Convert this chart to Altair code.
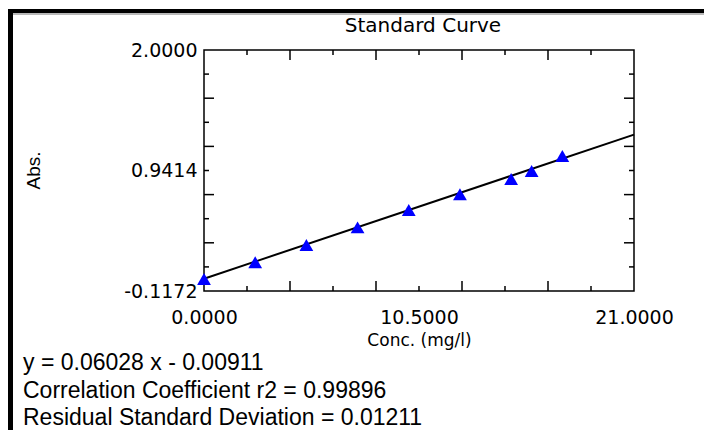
import altair as alt
import pandas as pd

# Calibration standards: concentration (mg/l) and measured absorbance
conc = [0.0, 2.5, 5.0, 7.5, 10.0, 12.5, 15.0, 16.0, 17.5]
absorbance = [-0.012, 0.135, 0.287, 0.442, 0.594, 0.732, 0.867, 0.937, 1.069]

# Linear fit reported for the curve
slope = 0.06028
intercept = -0.00911
r2 = 0.99896
residual_sd = 0.01211

# Axis ranges and labelled values
x_domain = [0.0, 21.0]
y_domain = [-0.1172, 2.0]
x_labels = [0.0, 10.5, 21.0]
y_labels = [-0.1172, 0.9414, 2.0]

# Inward tick marks (long and short)
x_major_ticks = [4.2, 8.4, 12.6, 16.8]
x_minor_ticks = [2.1, 6.3, 10.5, 14.7, 18.9]
y_major_ticks = [0.30624, 0.72968, 1.15312, 1.57656]
y_minor_ticks = [0.09452, 0.51796, 0.9414, 1.36484, 1.78828]

title_text = "Standard Curve"
stats_lines = [
    f"y = {slope:.5f} x - {abs(intercept):.5f}",
    f"Correlation Coefficient r2 = {r2:.5f}",
    f"Residual Standard Deviation = {residual_sd:.5f}",
]

W, H = 430, 241
LEFT, TOP = 204, 50
TICK_FONT = "DejaVu Sans"
TEXT_FONT = "Liberation Sans"
LABEL_EXPR = "replace(format(datum.value, '.4f'), '\u2212', '-')"

xs = alt.Scale(domain=x_domain, nice=False, zero=False)
ys = alt.Scale(domain=y_domain, nice=False, zero=False)

points_df = pd.DataFrame({"conc": conc, "abs": absorbance})
fit_df = pd.DataFrame({
    "conc": x_domain,
    "abs": [slope * x_domain[0] + intercept, slope * x_domain[1] + intercept],
})

x_axis = alt.Axis(
    values=x_labels, labelExpr=LABEL_EXPR, ticks=False, domain=False, grid=False,
    labelFont=TICK_FONT, labelFontSize=19, labelColor="black", labelPadding=17,
    labelFlush=False, title="Conc. (mg/l)", titleFont=TICK_FONT, titleFontSize=17,
    titleFontWeight="normal", titleColor="black", titleY=49, titleBaseline="middle",
)
y_axis = alt.Axis(
    values=y_labels, labelExpr=LABEL_EXPR, ticks=False, domain=False, grid=False,
    labelFont=TICK_FONT, labelFontSize=19, labelColor="black", labelPadding=7,
    labelFlush=False, title="Abs.", titleFont=TEXT_FONT, titleFontSize=19,
    titleFontWeight="normal", titleColor="black", titleX=-171, titleY=120,
    titleAngle=270, titleBaseline="middle", titleAlign="center",
)

fit = alt.Chart(fit_df).mark_line(color="black", strokeWidth=2).encode(
    x=alt.X("conc:Q", scale=xs, axis=x_axis),
    y=alt.Y("abs:Q", scale=ys, axis=y_axis),
)

points = alt.Chart(points_df).mark_point(
    shape="triangle-up", filled=True, color="#0000ff", opacity=1, size=190
).encode(x=alt.X("conc:Q", scale=xs), y=alt.Y("abs:Q", scale=ys))


def x_ticks(values, length):
    df = pd.DataFrame({"v": values})
    base = alt.Chart(df).mark_rule(color="black", strokeWidth=1.5)
    bottom = base.encode(x=alt.X("v:Q", scale=xs), y=alt.value(H), y2=alt.value(H - length))
    top = base.encode(x=alt.X("v:Q", scale=xs), y=alt.value(0), y2=alt.value(length))
    return [bottom, top]


def y_ticks(values, length):
    df = pd.DataFrame({"v": values})
    base = alt.Chart(df).mark_rule(color="black", strokeWidth=1.5)
    left = base.encode(y=alt.Y("v:Q", scale=ys), x=alt.value(0), x2=alt.value(length))
    right = base.encode(y=alt.Y("v:Q", scale=ys), x=alt.value(W), x2=alt.value(W - length))
    return [left, right]


ticks = (x_ticks(x_major_ticks, 10) + x_ticks(x_minor_ticks, 5)
         + y_ticks(y_major_ticks, 10) + y_ticks(y_minor_ticks, 5))

# Chart heading above the plot frame
title = alt.Chart(pd.DataFrame({"t": [title_text]})).mark_text(
    align="center", baseline="alphabetic", font=TICK_FONT, fontSize=20, color="black"
).encode(x=alt.value(W / 2 + 4), y=alt.value(32 - TOP), text="t:N")

# Regression summary printed under the chart
stats_baselines = [370, 397.5, 425]
stats = [
    alt.Chart(pd.DataFrame({"t": [line]})).mark_text(
        align="left", baseline="alphabetic", font=TEXT_FONT, fontSize=23, color="black"
    ).encode(x=alt.value(23 - LEFT), y=alt.value(b - TOP), text="t:N")
    for line, b in zip(stats_lines, stats_baselines)
]

# Outer window frame (thick left and top edges)
frame_left = alt.Chart(points_df).mark_rule(color="black", strokeWidth=5).encode(
    x=alt.value(10.5 - LEFT), y=alt.value(10 - TOP), y2=alt.value(430 - TOP)
)
frame_top = alt.Chart(points_df).mark_rule(color="black", strokeWidth=4).encode(
    x=alt.value(8 - LEFT), x2=alt.value(704 - LEFT), y=alt.value(11.5 - TOP)
)
frame_shadow = alt.Chart(points_df).mark_rule(color="#b8b8b8", strokeWidth=1).encode(
    x=alt.value(13 - LEFT), x2=alt.value(704 - LEFT), y=alt.value(14 - TOP)
)

chart = alt.layer(
    fit, points, *ticks, title, *stats, frame_left, frame_top, frame_shadow
).properties(
    width=W, height=H,
    autosize=alt.AutoSizeParams(type="none"),
    padding={"left": LEFT, "top": TOP, "right": 704 - LEFT - W, "bottom": 430 - TOP - H},
    background="white",
).configure_view(stroke="black", strokeWidth=1.5)

chart.save("out.html", embed_options={"renderer": "svg", "actions": False})
